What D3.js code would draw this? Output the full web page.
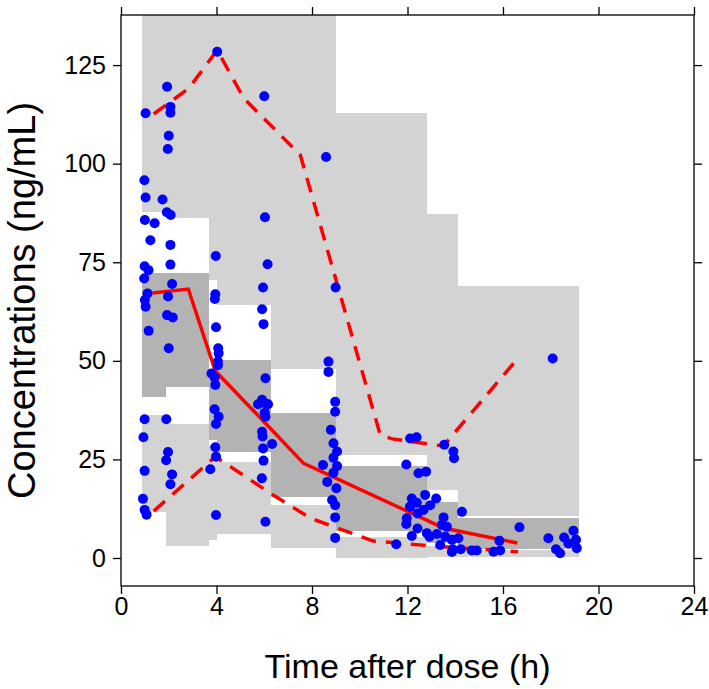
<!DOCTYPE html>
<html><head><meta charset="utf-8">
<script src="https://cdn.jsdelivr.net/npm/d3@7/dist/d3.min.js"></script>
<style>
body{margin:0;background:#fff}
svg{display:block}
text{font-family:"Liberation Sans",Arial,Helvetica,sans-serif}
</style>
</head><body>
<svg id="chart" width="709" height="689"></svg>
<script>
// ---- Data (time in h, concentration in ng/mL) ----
const binEdges = [0.89, 1.90, 3.70, 4.04, 6.30, 9.02, 12.82, 14.12, 19.18];
// prediction interval of the 95th percentile (light grey)
const p95Lo = [87.8, 86.2, 70.5, 64.1, 47.9, 26.1, 17.2, 10.6];
const p95Hi = [150, 150, 150, 150, 150, 112.8, 87.2, 69.0];
// prediction interval of the median (dark grey)
const p50Lo = [40.8, 43.4, 29.9, 26.9, 15.5, 6.8, 3.8, 2.3];
const p50Hi = [72.3, 72.3, 47.7, 50.2, 36.8, 23.3, 14.2, 10.1];
// prediction interval of the 5th percentile (light grey)
const p05Lo = [11.7, 3.0, 4.6, 6.1, 2.5, 0.0, 0.25, 0.25];
const p05Hi = [36.3, 34.0, 28.7, 24.3, 13.4, 5.3, 3.0, 2.0];

// observed median (solid) and 5th / 95th percentiles (dashed)
const medT = [1.32, 2.82, 3.95, 6.0, 7.65, 12.8, 13.5, 16.6];
const medV = [67.2, 68.2, 47.4, 34.5, 24.0, 9.6, 7.6, 3.8];
const upT = [1.37, 2.84, 4.03, 5.14, 7.51, 10.86, 11.36, 13.5, 16.63];
const upV = [112.6, 119.1, 128.8, 116.6, 102.2, 31.2, 30.2, 28.4, 50.7];
const loT = [1.37, 3.95, 6.26, 7.93, 10.56, 13.37, 16.63];
const loV = [11.9, 25.7, 16.4, 10.1, 4.3, 2.9, 1.6];

// observations
const obsT = [
 1.03,0.98,1.03,1.41,1.00,1.23,0.99,1.15,0.97,1.11,1.00,1.03,1.16,0.99,0.94,0.99,0.92,0.99,1.07,
 1.93,2.07,2.07,2.00,1.96,1.74,1.92,2.08,2.07,2.07,2.14,1.97,1.93,2.17,2.00,1.90,1.97,1.89,2.14,2.07,
 4.03,3.97,3.95,3.93,3.98,4.07,4.09,4.06,4.06,3.79,3.92,3.95,3.92,4.09,3.98,3.95,3.98,3.74,3.98,
 6.00,6.03,6.14,5.95,5.91,5.97,6.05,5.74,5.91,6.05,6.16,6.02,6.05,5.91,5.93,6.33,5.95,5.97,5.90,6.05,
 8.99,8.59,8.69,8.69,8.97,8.97,8.79,8.90,9.05,8.90,9.05,8.90,8.46,8.64,9.02,8.84,8.97,8.97,8.97,
 12.11,12.38,13.54,13.92,13.95,11.95,12.46,12.78,12.18,12.74,13.20,12.39,12.11,12.67,12.95,12.42,12.11,
 11.97,11.95,12.42,12.18,12.81,11.53,12.92,13.23,13.51,13.44,13.65,14.28,13.58,13.86,14.13,13.37,13.90,
 14.23,13.86,14.69,14.90,
 15.60,15.88,15.85,16.69,
 18.08,17.90,18.22,18.39,18.56,18.74,18.95,19.06,19.09
];
const obsV = [
 112.8,95.8,91.4,84.9,85.7,80.6,74.0,73.0,70.9,67.1,65.4,63.7,57.6,35.2,30.6,22.1,15.0,12.2,11.0,
 119.5,114.4,112.9,107.1,103.7,90.9,87.7,87.0,79.4,74.4,69.5,66.3,61.6,61.0,53.2,35.2,26.9,24.8,21.2,18.7,
 128.4,76.6,66.9,65.7,58.5,53.2,51.9,49.8,48.9,46.8,45.8,43.9,37.7,35.8,34.0,28.1,25.7,22.5,10.9,
 117.1,86.4,74.5,68.6,63.1,59.3,45.6,39.0,40.1,39.2,39.0,36.8,35.8,32.0,30.8,28.9,27.8,24.7,20.2,9.2,
 68.6,101.7,49.8,47.2,39.6,37.1,32.5,29.1,27.0,25.4,23.3,21.6,23.6,19.3,17.7,14.7,13.4,10.3,5.1,
 30.3,30.6,28.7,27.0,25.3,23.7,21.5,21.9,15.1,16.0,15.1,14.0,13.0,12.2,13.4,11.3,13.0,
 10.1,8.6,7.5,5.6,6.3,3.5,5.4,6.1,10.3,8.4,7.9,11.7,5.4,4.6,5.0,3.3,2.2,
 2.2,1.5,1.9,1.9,
 1.6,1.9,4.4,7.8,
 50.6,5.0,2.2,1.2,5.2,3.7,6.9,4.6,2.5
];

const xTicks = [0, 4, 8, 12, 16, 20, 24];
const yTicks = [0, 25, 50, 75, 100, 125];

// ---- Layout ----
const L = 121, R = 694, T = 15, B = 586;
const svg = d3.select("#chart");
const x = d3.scaleLinear().domain([0, 24]).range([L, R]);
const y = d3.scaleLinear().domain([-7.1, 137.7]).range([B, T]);

svg.append("defs").append("clipPath").attr("id", "clip")
  .append("rect").attr("x", L).attr("y", T).attr("width", R - L).attr("height", B - T);

const plot = svg.append("g").attr("clip-path", "url(#clip)");

function bins(lo, hi) {
  return lo.map((d, i) => ({x0: binEdges[i], x1: binEdges[i + 1], lo: d, hi: hi[i]}));
}
const light = "#D3D3D3", dark = "#B3B3B3";
function drawRects(data, fill) {
  plot.append("g").selectAll("rect").data(data).join("rect")
    .attr("x", d => x(d.x0)).attr("width", d => x(d.x1) - x(d.x0))
    .attr("y", d => y(d.hi)).attr("height", d => y(d.lo) - y(d.hi))
    .attr("fill", fill).attr("shape-rendering", "crispEdges");
}
drawRects(bins(p95Lo, p95Hi), light);
drawRects(bins(p05Lo, p05Hi), light);
drawRects(bins(p50Lo, p50Hi), dark);

const line = d3.line().x(d => x(d[0])).y(d => y(d[1]));
const red = "#FF0000";
plot.append("path").datum(medT.map((t, i) => [t, medV[i]]))
  .attr("d", line).attr("fill", "none").attr("stroke", red).attr("stroke-width", 3.5);
[[upT, upV], [loT, loV]].forEach(([tt, vv]) => {
  plot.append("path").datum(tt.map((t, i) => [t, vv[i]]))
    .attr("d", line).attr("fill", "none").attr("stroke", red).attr("stroke-width", 3.5)
    .attr("stroke-dasharray", "15,10");
});

plot.append("g").selectAll("circle").data(obsT.map((t, i) => [t, obsV[i]])).join("circle")
  .attr("cx", d => x(d[0])).attr("cy", d => y(d[1])).attr("r", 5).attr("fill", "#0000FF");

// ---- Axes ----
const tickLen = 8;
function styleAxis(g) {
  g.select(".domain").remove();
  g.selectAll(".tick line").attr("stroke", "#000").attr("stroke-width", 1.3);
  g.selectAll(".tick text").attr("fill", "#000").style("font-size", "25px");
}
svg.append("g").attr("transform", `translate(0,${B})`)
  .call(d3.axisBottom(x).tickValues(xTicks).tickSize(tickLen).tickPadding(3).tickFormat(d3.format("d")))
  .call(styleAxis);
svg.append("g").attr("transform", `translate(0,${T})`)
  .call(d3.axisTop(x).tickValues(xTicks).tickSize(tickLen).tickFormat(""))
  .call(styleAxis);
svg.append("g").attr("transform", `translate(${L},0)`)
  .call(d3.axisLeft(y).tickValues(yTicks).tickSize(tickLen).tickPadding(7).tickFormat(d3.format("d")))
  .call(styleAxis);
svg.append("g").attr("transform", `translate(${R},0)`)
  .call(d3.axisRight(y).tickValues(yTicks).tickSize(tickLen).tickFormat(""))
  .call(styleAxis);

svg.append("rect").attr("x", L).attr("y", T).attr("width", R - L).attr("height", B - T)
  .attr("fill", "none").attr("stroke", "#000").attr("stroke-width", 1.3);

svg.append("text").attr("x", (L + R) / 2).attr("y", 678).attr("text-anchor", "middle")
  .style("font-size", "34px").text("Time after dose (h)");
svg.append("text").attr("transform", `translate(35,${(T + B) / 2}) rotate(-90)`)
  .attr("text-anchor", "middle").style("font-size", "38px").text("Concentrations (ng/mL)");
</script>
</body></html>
